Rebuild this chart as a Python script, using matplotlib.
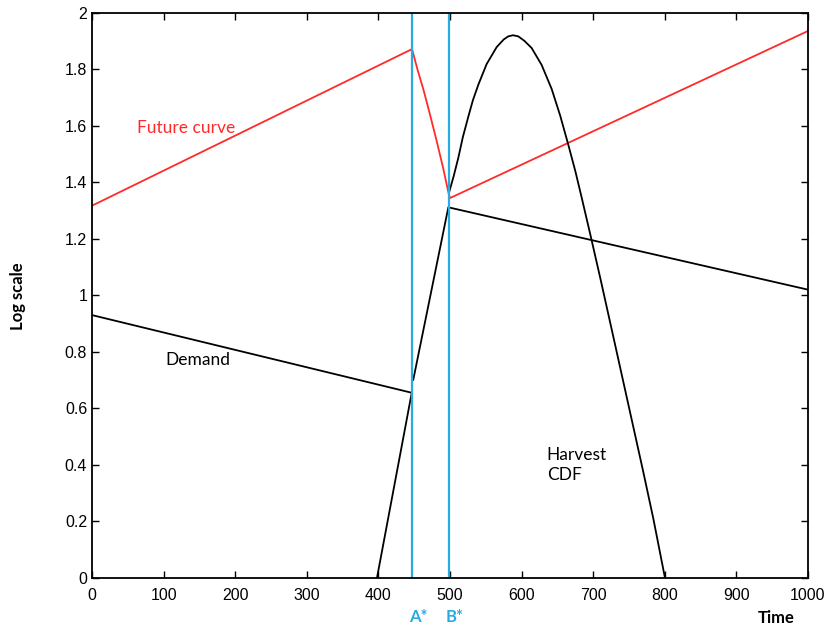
import numpy as np
import matplotlib.pyplot as plt

# readings from the reference (time, log scale)
a_star = 447
b_star = 498

future_x = [0, 447, 455, 463, 472, 481, 490, 498, 500, 1000]
future_y = [1.317, 1.871, 1.795, 1.727, 1.64, 1.55, 1.455, 1.362, 1.344, 1.935]

demand1_x = [0, 447]
demand1_y = [0.93, 0.655]
demand2_x = [500, 1000]
demand2_y = [1.31, 1.02]

harvest_lo_x = [398, 446.5]
harvest_lo_y = [0.0, 0.654]
harvest_mid_x = [448.7, 497.6]
harvest_mid_y = [0.701, 1.31]
harvest_hi_x = [498.6, 505, 511.6, 518, 525.6, 532, 539.6, 551.2, 565.2, 575, 581.4, 588,
                595.4, 604, 614, 628, 642, 654, 665, 675, 684, 696, 710, 728, 742, 756,
                770, 784, 800.3]
harvest_hi_y = [1.363, 1.42, 1.486, 1.56, 1.632, 1.69, 1.745, 1.818, 1.878, 1.905, 1.916, 1.92,
                1.916, 1.9, 1.875, 1.815, 1.73, 1.635, 1.535, 1.44, 1.345, 1.215, 1.06, 0.855,
                0.695, 0.535, 0.375, 0.21, 0.0]

xticks = np.arange(0, 1001, 100)
yticks = np.arange(0, 2.01, 0.2)

plt.rcParams['font.family'] = ['Liberation Sans', 'DejaVu Sans']

fig = plt.figure(figsize=(8.34, 6.31), dpi=100)
ax = fig.add_axes([0.1103, 0.084, 0.8585, 0.896])

blue = '#29abe2'
lw = 1.3
ax.plot(future_x, future_y, color='#ff2a2a', lw=lw)
ax.plot(demand1_x, demand1_y, color='black', lw=lw)
ax.plot(demand2_x, demand2_y, color='black', lw=lw)
ax.plot(harvest_lo_x, harvest_lo_y, color='black', lw=lw)
ax.plot(harvest_mid_x, harvest_mid_y, color='black', lw=lw)
ax.plot(harvest_hi_x, harvest_hi_y, color='black', lw=lw)
ax.axvline(a_star, color=blue, lw=1.6)
ax.axvline(b_star, color=blue, lw=1.6)

lab = ['Lato', 'DejaVu Sans']
ax.text(63, 1.593, 'Future curve', color='#ff2a2a', fontsize=12.5, family=lab, va='center')
ax.text(102, 0.772, 'Demand', color='black', fontsize=12.5, family=lab, va='center')
ax.text(635, 0.40, 'Harvest\nCDF', color='black', fontsize=12.5, family=lab, va='center',
        linespacing=1.3)

ax.set_xlim(0, 1000)
ax.set_ylim(0, 2)
ax.set_xticks(xticks)
ax.set_yticks(yticks)
ax.set_yticklabels([f'{v:g}' for v in np.round(yticks, 1)])
ax.tick_params(direction='in', top=True, right=True, length=5, width=1, labelsize=11.5)
ax.tick_params(axis='x', pad=7)
for s in ax.spines.values():
    s.set_linewidth(1.3)

fig.text(418 / 834, 1 - 617 / 631, 'A*', color=blue, fontsize=12, fontweight='bold',
         ha='center', va='center', family=lab)
fig.text(455 / 834, 1 - 617 / 631, 'B*', color=blue, fontsize=12, fontweight='bold',
         ha='center', va='center', family=lab)
fig.text(776 / 834, 1 - 618 / 631, 'Time', fontsize=12, fontweight='bold', ha='center',
         va='center', family=lab)
fig.text(18 / 834, 1 - 296 / 631, 'Log scale', fontsize=12, fontweight='bold', ha='center',
         va='center', rotation=90, family=lab)

fig.savefig('out.png', dpi=100)
